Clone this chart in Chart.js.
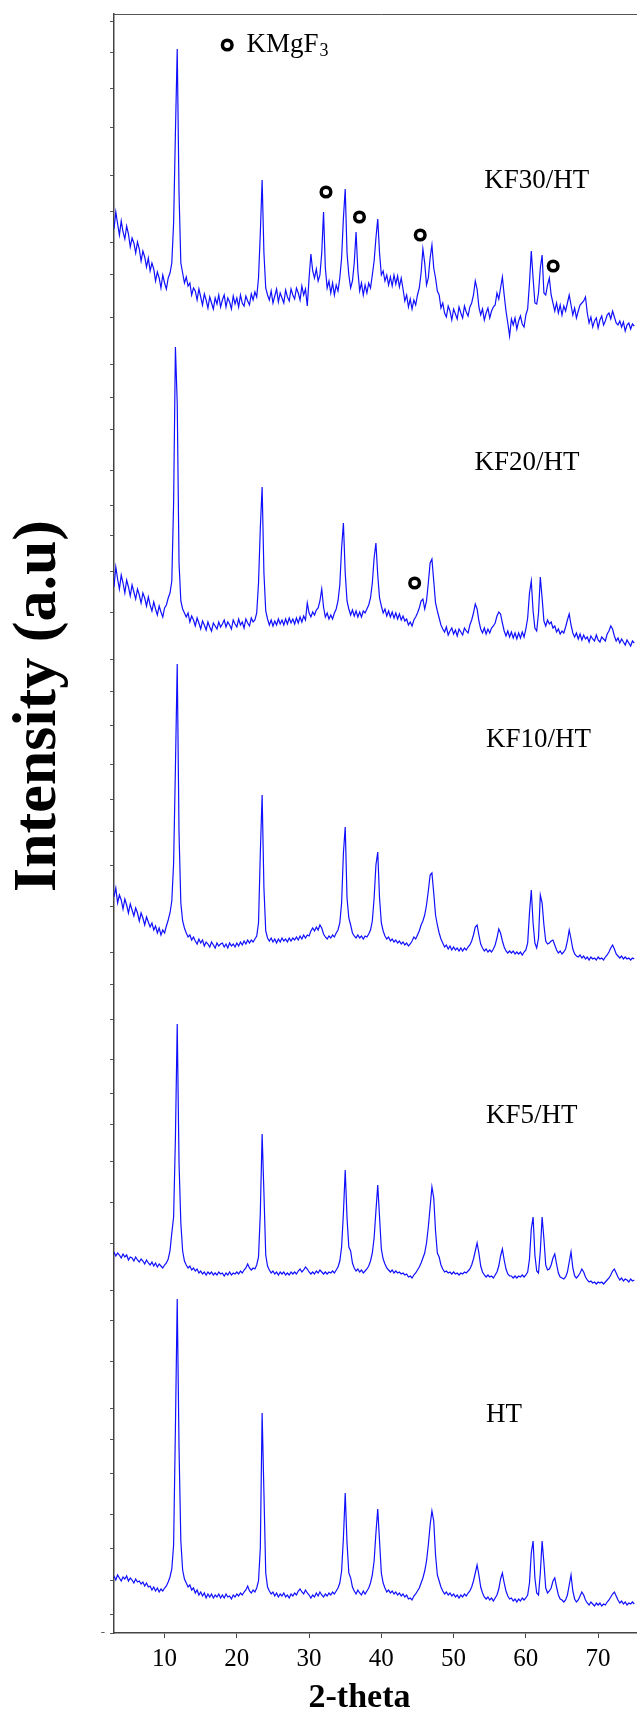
<!DOCTYPE html>
<html>
<head>
<meta charset="utf-8">
<script src="https://cdn.jsdelivr.net/npm/chart.js@4.4.1/dist/chart.umd.min.js"></script>
<style>
  html, body { margin: 0; padding: 0; background: #fff; overflow: hidden; }
  #wrap { width: 637px; height: 1711px; overflow: hidden; }
  canvas { display: block; }
</style>
</head>
<body>
<div id="wrap"><canvas id="xrd" width="657" height="1711"></canvas></div>
<script>
// scan grid: 2-theta from 3 deg in 0.25 deg steps
const thetaStart = 3
const thetaStep = 0.25

// intensities (a.u.) above each pattern's own stacking offset, one row = 5 deg
const htCounts = [
  57,53,58,55,52,56,54,57,52,55,53,50,54,51,52,49,51,47,50,46,
  47,43,46,42,45,41,44,42,45,47,51,56,64,88,205,334,185,92,63,54,
  50,46,48,43,45,40,43,38,41,37,40,35,39,36,39,35,38,36,39,35,
  38,35,39,36,37,34,38,36,39,37,40,38,41,43,47,42,40,43,41,45,
  52,85,220,140,60,46,42,39,41,37,40,36,39,37,40,36,38,35,39,37,
  40,38,42,44,41,39,43,40,38,35,38,36,40,37,41,38,36,39,37,40,
  38,41,39,42,45,50,62,95,140,90,60,55,46,42,39,43,40,38,42,39,
  42,45,50,58,72,100,124,92,60,50,45,41,43,40,42,39,41,38,40,37,
  39,36,38,34,35,33,37,39,42,45,50,55,62,72,88,108,122,112,78,58,
  52,46,42,39,41,38,40,37,39,36,38,35,38,36,39,37,40,42,46,52,
  60,68,58,46,40,36,34,36,33,35,32,35,38,44,54,60,50,42,37,34,
  35,32,34,31,34,32,35,33,35,38,50,80,92,55,40,38,60,92,70,45,
  40,42,45,52,55,46,38,34,33,31,33,38,48,58,42,34,31,33,37,41,
  38,33,30,28,31,29,27,30,28,30,27,29,28,31,33,36,39,41,37,33,
  30,32,29,31,28,30,29,31,29
]
const kf5Counts = [
  61,57,60,58,55,59,56,58,53,56,55,52,56,53,51,54,52,49,53,50,
  48,51,47,50,46,49,47,45,48,50,54,62,80,96,175,289,150,90,62,52,
  48,45,47,43,45,42,44,40,42,39,41,38,41,39,41,38,40,38,41,39,
  40,37,40,38,41,38,40,39,41,39,42,40,43,45,49,45,43,45,44,48,
  56,100,179,120,58,47,43,40,42,39,41,38,41,39,41,38,40,38,41,39,
  41,39,42,44,41,43,46,44,41,39,41,39,42,40,43,41,39,41,39,41,
  40,42,40,43,46,52,66,100,143,95,66,62,50,45,42,44,41,43,40,42,
  44,47,52,60,75,102,128,96,64,54,49,45,43,41,43,40,42,40,41,39,
  40,38,39,36,37,35,38,40,43,46,50,55,60,70,86,106,126,115,82,60,
  56,48,44,41,42,40,41,39,41,39,40,38,40,39,41,40,42,44,48,54,
  62,70,60,47,41,38,36,38,36,37,35,38,41,47,57,64,53,44,39,37,
  37,35,37,35,37,36,38,36,38,41,54,84,96,58,42,40,62,96,74,48,
  43,44,48,55,59,49,40,36,35,34,36,41,51,61,45,37,35,37,40,44,
  41,36,33,31,32,30,31,29,31,30,31,29,31,33,35,38,42,44,40,36,
  33,35,32,34,33,31,34,32,33
]
const kf10Counts = [
  86,95,80,88,83,74,84,78,70,79,73,67,75,70,62,70,65,58,66,61,
  56,60,53,57,50,55,48,53,50,57,63,70,82,120,215,319,150,80,62,55,
  50,46,48,43,46,42,39,44,40,43,37,41,39,36,41,38,35,40,37,39,
  40,36,39,35,40,37,39,36,40,37,41,38,42,39,43,40,43,41,44,47,
  60,130,188,95,52,45,42,45,41,44,40,44,41,45,42,44,41,45,42,45,
  43,46,43,47,44,48,45,48,47,52,55,52,56,53,58,55,49,46,44,47,
  45,48,46,50,53,60,80,130,156,85,65,58,50,47,45,48,45,47,44,47,
  46,49,53,62,85,118,131,85,60,52,47,44,46,42,44,41,43,40,42,39,
  41,38,40,37,39,42,46,44,48,52,58,62,68,78,92,108,110,90,68,58,
  50,44,40,36,38,34,37,33,36,33,35,32,35,32,35,33,36,38,42,48,
  56,58,48,39,35,32,34,31,33,31,34,38,45,54,50,42,36,32,30,32,
  30,32,29,31,29,31,28,31,33,40,70,93,60,40,35,45,88,80,58,42,
  39,40,42,43,38,33,30,32,29,31,34,42,53,44,34,29,27,26,28,25,
  27,24,26,23,26,24,25,23,26,24,25,23,26,28,31,35,38,34,29,27,
  25,27,24,26,24,25,23,25,24
]
const kf20Counts = [
  66,86,74,64,78,70,60,73,66,57,68,61,54,64,58,50,60,55,47,56,
  48,42,51,44,38,47,41,36,45,48,55,60,72,150,306,250,90,52,44,40,
  36,40,31,37,33,27,35,30,24,32,28,23,31,26,22,30,27,24,31,26,
  29,33,26,31,28,24,33,29,26,34,28,31,25,34,30,27,35,31,33,40,
  70,125,166,80,42,34,28,33,27,32,28,34,29,33,28,34,29,35,30,34,
  29,35,30,36,31,37,33,50,40,36,41,38,43,45,52,64,46,36,40,34,
  38,34,40,44,52,68,105,130,80,52,44,38,43,37,42,36,41,36,42,40,
  44,48,55,70,95,110,78,55,47,40,44,37,42,36,41,35,40,34,39,33,
  37,32,34,28,31,27,33,36,40,45,52,54,44,52,70,90,94,72,50,42,
  35,28,24,21,26,18,22,25,19,23,17,24,21,18,25,22,20,28,33,40,
  49,44,32,24,20,25,19,24,20,25,27,30,37,41,39,30,22,17,22,16,
  21,15,20,14,20,15,21,16,24,35,60,72,42,25,22,40,76,55,32,27,
  33,29,31,25,27,21,24,19,22,20,26,33,39,28,20,16,20,14,19,13,
  18,14,16,11,17,14,12,18,13,11,16,14,12,19,22,27,24,17,12,15,
  10,14,11,8,13,10,7,12,10
]
const kf30Counts = [
  104,121,109,98,112,101,94,107,99,86,95,90,80,91,84,72,82,76,66,75,
  62,70,64,52,61,55,45,58,50,44,55,60,70,110,200,284,140,70,60,50,
  56,47,50,38,45,42,33,44,36,28,39,33,25,36,30,24,35,29,38,26,
  33,38,26,35,31,24,37,29,35,26,38,30,27,37,32,28,39,33,41,36,
  55,100,153,80,45,38,33,42,30,37,44,31,40,35,30,43,36,32,44,38,
  34,45,40,33,47,38,44,27,55,79,62,55,64,52,58,80,121,65,45,52,
  40,50,38,48,42,55,75,115,144,80,58,45,52,70,101,62,42,50,38,48,
  40,50,45,58,72,95,114,80,58,62,52,58,48,56,47,58,49,57,46,55,
  44,32,38,26,34,24,33,28,38,45,60,84,70,48,55,75,88,65,55,42,
  38,25,30,20,16,27,22,13,24,19,14,26,20,15,27,21,17,26,30,38,
  52,44,26,18,24,13,20,25,15,22,26,28,40,34,45,56,38,22,10,-3,
  14,8,15,4,12,17,9,6,18,24,50,82,55,30,29,40,65,78,40,38,
  48,55,38,30,22,30,20,28,18,27,22,30,38,28,18,25,15,22,28,30,
  32,36,20,10,16,6,12,15,5,13,17,8,12,18,20,14,22,16,10,8,
  12,6,11,2,8,10,4,9,7
]

const sampleNames = ['KF30/HT', 'KF20/HT', 'KF10/HT', 'KF5/HT', 'HT']
const sampleCounts = [kf30Counts, kf20Counts, kf10Counts, kf5Counts, htCounts]
const stackOffsets = [1300, 980, 650, 320, 0]

// KMgF3 reflections marked with open circles (2-theta, plotted level)
const kmgf3Theta = [32.34, 36.97, 45.38, 63.78, 44.61]
const kmgf3Level = [1441, 1416, 1398, 1367, 1050]

const xTicks = [10, 20, 30, 40, 50, 60, 70]
const yTicks = [1611, 1581, 1545, 1506, 1458, 1422, 1391, 1358, 1316, 1269, 1236,
  1203, 1163, 1128, 1098, 1061, 1021, 974, 942, 908, 868, 834, 802, 768, 727,
  680, 649, 614, 574, 540, 509, 472, 431, 390, 343, 313, 272, 225, 194, 160,
  119, 85, 53, 19, 0]

// where the sample names and the legend sit, in data units
const labelTheta = [54.24, 52.88, 54.47, 54.47, 54.47]
const labelLevel = [1445, 1163, 886, 510, 211]
const legendMark = { x: 18.67, y: 1588 }
const legendText = { x: 21.34, y: 1581 }

const theta = htCounts.map((_, i) => thetaStart + i * thetaStep)
const toPoints = (counts, offset) => counts.map((c, i) => ({ x: theta[i], y: c + offset }))

const serif = '"Liberation Serif", "Times New Roman", serif'

const annotations = {
  id: 'annotations',
  afterDraw(chart) {
    const { ctx, chartArea, scales: { x, y } } = chart
    ctx.save()
    ctx.strokeStyle = '#555'
    ctx.lineWidth = 1
    ctx.beginPath()
    ctx.moveTo(chartArea.left, chartArea.top + 0.5)
    ctx.lineTo(chartArea.right, chartArea.top + 0.5)
    ctx.stroke()

    ctx.fillStyle = '#000'
    ctx.textBaseline = 'alphabetic'
    ctx.font = '27px ' + serif
    sampleNames.forEach((name, i) => {
      ctx.fillText(name, x.getPixelForValue(labelTheta[i]), y.getPixelForValue(labelLevel[i]))
    })

    const lx = x.getPixelForValue(legendText.x)
    const ly = y.getPixelForValue(legendText.y)
    ctx.fillText('KMgF', lx, ly)
    const w = ctx.measureText('KMgF').width
    ctx.font = '18px ' + serif
    ctx.fillText('3', lx + w + 1, ly + 4)

    ctx.textAlign = 'center'
    ctx.font = 'bold 34px ' + serif
    ctx.fillText('2-theta', 359.5, 1707)

    ctx.translate(55, 706)
    ctx.rotate(-Math.PI / 2)
    ctx.font = 'bold 62px ' + serif
    ctx.fillText('Intensity (a.u)', 0, 0)
    ctx.restore()
  }
}

const datasets = [{
  type: 'scatter',
  data: kmgf3Theta.map((t, i) => ({ x: t, y: kmgf3Level[i] })).concat([legendMark]),
  pointRadius: 4.8,
  pointBorderWidth: 3.5,
  pointBorderColor: '#000',
  pointBackgroundColor: '#fff',
  showLine: false
}].concat(sampleCounts.map((counts, i) => ({
  label: sampleNames[i],
  data: toPoints(counts, stackOffsets[i]),
  borderColor: '#1010ff',
  borderWidth: 1.2,
  pointRadius: 0,
  tension: 0
})))

new Chart(document.getElementById('xrd'), {
  type: 'line',
  data: { datasets },
  options: {
    responsive: false,
    animation: false,
    devicePixelRatio: 1,
    events: [],
    layout: { padding: { top: 14, left: 0, right: 0, bottom: 0 } },
    plugins: { legend: { display: false }, tooltip: { enabled: false } },
    scales: {
      x: {
        type: 'linear',
        min: 3,
        max: 77,
        afterBuildTicks: (s) => { s.ticks = xTicks.map(v => ({ value: v })) },
        afterFit: (s) => { s.height = 78 },
        grid: { drawOnChartArea: false, tickLength: 5, tickColor: '#444' },
        border: { color: '#444', width: 1.5 },
        ticks: { color: '#000', padding: 6, font: { family: serif, size: 25 }, autoSkip: false, maxRotation: 0 }
      },
      y: {
        type: 'linear',
        min: 0,
        max: 1619,
        afterBuildTicks: (s) => { s.ticks = yTicks.map(v => ({ value: v })) },
        afterFit: (s) => { s.width = 114 },
        grid: { drawOnChartArea: false, tickLength: 4, tickColor: '#555' },
        border: { color: '#444', width: 1.5 },
        ticks: {
          color: '#555', padding: 5, autoSkip: false,
          font: { family: serif, size: 13 },
          callback: (v) => (v === 0 ? '-' : '')
        }
      }
    }
  },
  plugins: [annotations]
})
</script>
</body>
</html>
